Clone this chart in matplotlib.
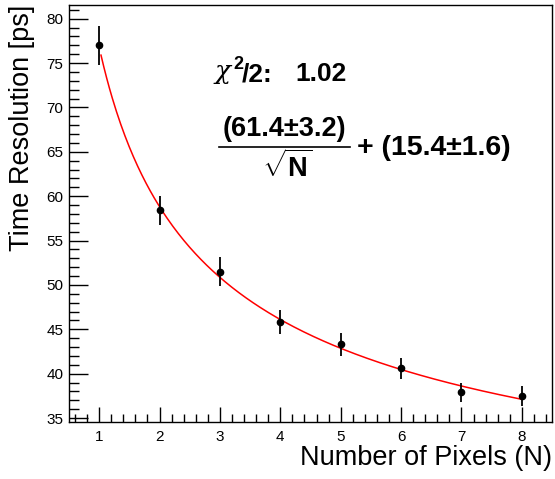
import numpy as np
import matplotlib
matplotlib.use("Agg")
import matplotlib.pyplot as plt
from matplotlib.ticker import MultipleLocator
from matplotlib.lines import Line2D

plt.rcParams['font.family'] = ['Liberation Sans', 'DejaVu Sans']
plt.rcParams['mathtext.fontset'] = 'custom'
plt.rcParams['mathtext.rm'] = 'Liberation Sans'
plt.rcParams['mathtext.bf'] = 'Liberation Sans:bold'

# data
n_pixels = [1, 2, 3, 4, 5, 6, 7, 8]
time_res = [77.0, 58.4, 51.5, 45.8, 43.3, 40.6, 37.9, 37.5]
time_err = [2.2, 1.65, 1.6, 1.37, 1.27, 1.15, 1.07, 1.1]

# fit a/sqrt(N) + b
fit_a = 61.4
fit_a_err = 3.2
fit_b = 15.4
fit_b_err = 1.6
chi2_ndf = 1.02
fit_range = [1.03, 8.0]

x_ticks = [1, 2, 3, 4, 5, 6, 7, 8]
y_ticks = [35, 40, 45, 50, 55, 60, 65, 70, 75, 80]

W, H = 555, 479
fig = plt.figure(figsize=(W / 100, H / 100), dpi=100)
ax = fig.add_axes([69 / W, 1 - 422 / H, (552 - 69) / W, (422 - 5) / H])

xf = np.linspace(fit_range[0], fit_range[1], 300)
ax.plot(xf, fit_a / np.sqrt(xf) + fit_b, color='#ff0000', lw=1.1, zorder=2)

ax.errorbar(n_pixels, time_res, yerr=time_err, fmt='o', color='black',
            ms=4.5, elinewidth=1.3, capsize=0, zorder=3)

ax.set_xlim(0.5, 8.5)
ax.set_ylim(34.55, 81.55)
ax.set_xticks(x_ticks)
ax.set_yticks(y_ticks)
ax.xaxis.set_minor_locator(MultipleLocator(0.2))
ax.yaxis.set_minor_locator(MultipleLocator(1))
ax.tick_params(which='both', direction='in', top=False, right=False,
               width=1.0, colors='black', labelsize=11)
ax.tick_params(axis='x', which='major', length=11, pad=6)
ax.tick_params(axis='x', which='minor', length=5.5)
ax.tick_params(axis='y', which='major', length=14, pad=4)
ax.tick_params(axis='y', which='minor', length=7)
for s in ax.spines.values():
    s.set_linewidth(1.0)

fig.text(552 / W, 1 - 458 / H, 'Number of Pixels (N)', ha='right', va='center',
         fontsize=19.5)
fig.text(22 / W, 1 - 5 / H, 'Time Resolution [ps]', ha='center', va='top',
         rotation=90, fontsize=19.5)

BF = dict(fontweight='bold', va='baseline')

# chi2 line
fig.text(215 / W, 1 - 79 / H, 'χ', ha='left', va='baseline',
         fontsize=19, family='DejaVu Serif', style='italic')
fig.text(233 / W, 1 - 69 / H, '2', ha='left', fontsize=13, **BF)
fig.text(242 / W, 1 - 81 / H, '/2:', ha='left', fontsize=19, **BF)
fig.text(347 / W, 1 - 81 / H, '%.2f' % chi2_ndf, ha='right', fontsize=19, **BF)

# fit formula
fig.text(284 / W, 1 - 136 / H, '(%.1f±%.1f)' % (fit_a, fit_a_err), ha='center',
         fontsize=19.5, **BF)
fig.text(287 / W, 1 - 177 / H, r'$\sqrt{\mathbf{N}}$', ha='center', va='baseline',
         fontsize=19.5)
fig.add_artist(Line2D([219 / W, 350 / W], [1 - 146.5 / H, 1 - 146.5 / H],
                      color='black', lw=1.2, transform=fig.transFigure))
fig.text(357 / W, 1 - 155 / H, '+ (%.1f±%.1f)' % (fit_b, fit_b_err), ha='left',
         fontsize=20.5, **BF)

fig.savefig('out.png', dpi=100)
